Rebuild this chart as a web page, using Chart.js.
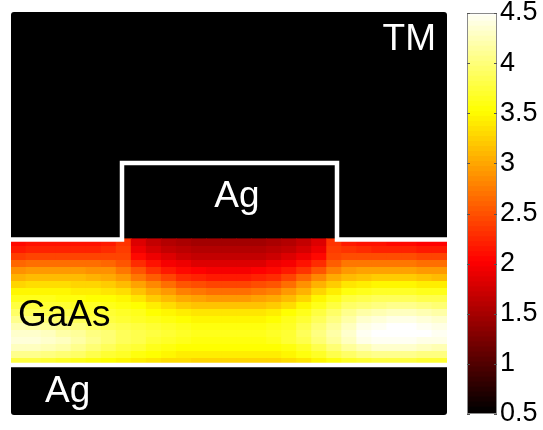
<!DOCTYPE html>
<html>
<head>
<meta charset="utf-8">
<script src="https://cdn.jsdelivr.net/npm/chart.js@4/dist/chart.umd.min.js"></script>
<style>
  html, body { margin: 0; padding: 0; background: #fff; overflow: hidden; }
  #wrap { position: relative; width: 543px; height: 430px; }
  #mapa { position: absolute; left: 11px; top: 12px; background: #000; border-radius: 3px; }
  #barra { position: absolute; left: 460px; top: -20px; }
</style>
</head>
<body>
<div id="wrap">
  <canvas id="mapa" width="436" height="403"></canvas>
  <canvas id="barra" width="83" height="470"></canvas>
</div>
<script>
// columnas del mapa (izquierda a derecha) y bordes de filas dentro del GaAs (arriba a abajo)
const columnas = Array.from({ length: 29 }, (_, i) => String(i + 1));
const bordesFilas = [176, 169, 162, 155, 148, 141, 134, 127, 120, 113, 106, 99, 92, 85, 78, 71, 64, 57, 50];

// |E|, una fila por franja
const campo = [
  [2.05, 2.1, 2.1, 2.1, 2.1, 2.1, 2.15, 2.3, 1.8, 1.65, 1.55, 1.5, 1.45, 1.45, 1.45, 1.45, 1.45, 1.5, 1.55, 1.65, 1.8, 2.3, 2.15, 2.1, 2.1, 2.05, 2.05, 2.0, 2.0],
  [2.15, 2.2, 2.2, 2.2, 2.2, 2.2, 2.25, 2.35, 1.9, 1.75, 1.65, 1.6, 1.55, 1.55, 1.55, 1.55, 1.55, 1.6, 1.65, 1.75, 1.9, 2.35, 2.3, 2.25, 2.2, 2.2, 2.2, 2.15, 2.15],
  [2.35, 2.4, 2.4, 2.4, 2.4, 2.4, 2.4, 2.4, 2.05, 1.9, 1.8, 1.7, 1.65, 1.65, 1.65, 1.65, 1.65, 1.7, 1.8, 1.9, 2.05, 2.4, 2.45, 2.45, 2.45, 2.45, 2.45, 2.4, 2.4],
  [2.6, 2.65, 2.65, 2.65, 2.65, 2.65, 2.6, 2.5, 2.25, 2.1, 1.95, 1.9, 1.8, 1.8, 1.8, 1.8, 1.8, 1.9, 1.95, 2.1, 2.25, 2.55, 2.7, 2.7, 2.7, 2.7, 2.7, 2.65, 2.65],
  [2.85, 2.9, 2.9, 2.9, 2.9, 2.85, 2.85, 2.7, 2.5, 2.3, 2.15, 2.05, 2.0, 1.95, 1.95, 1.95, 2.0, 2.05, 2.15, 2.3, 2.5, 2.75, 2.9, 2.95, 2.95, 2.95, 2.95, 2.9, 2.9],
  [3.05, 3.1, 3.1, 3.1, 3.1, 3.05, 3.0, 2.9, 2.7, 2.55, 2.4, 2.25, 2.2, 2.15, 2.15, 2.15, 2.2, 2.25, 2.4, 2.6, 2.8, 3.0, 3.1, 3.15, 3.2, 3.2, 3.2, 3.15, 3.1],
  [3.25, 3.3, 3.3, 3.3, 3.25, 3.25, 3.2, 3.1, 2.95, 2.8, 2.65, 2.5, 2.45, 2.4, 2.4, 2.4, 2.45, 2.5, 2.65, 2.85, 3.05, 3.2, 3.35, 3.4, 3.45, 3.45, 3.45, 3.4, 3.4],
  [3.45, 3.45, 3.45, 3.45, 3.4, 3.4, 3.35, 3.3, 3.15, 3.0, 2.9, 2.75, 2.7, 2.65, 2.65, 2.65, 2.7, 2.75, 2.9, 3.05, 3.25, 3.4, 3.55, 3.6, 3.65, 3.65, 3.65, 3.6, 3.6],
  [3.6, 3.6, 3.6, 3.55, 3.55, 3.5, 3.5, 3.45, 3.35, 3.2, 3.1, 3.0, 2.95, 2.9, 2.9, 2.9, 2.95, 3.0, 3.1, 3.25, 3.45, 3.6, 3.75, 3.8, 3.85, 3.85, 3.85, 3.8, 3.8],
  [3.75, 3.75, 3.7, 3.7, 3.65, 3.65, 3.6, 3.55, 3.5, 3.4, 3.3, 3.2, 3.15, 3.15, 3.15, 3.15, 3.15, 3.2, 3.3, 3.45, 3.6, 3.75, 3.9, 3.95, 4.0, 4.05, 4.05, 4.0, 3.95],
  [3.9, 3.85, 3.8, 3.8, 3.75, 3.7, 3.7, 3.65, 3.6, 3.5, 3.45, 3.4, 3.35, 3.35, 3.35, 3.35, 3.35, 3.4, 3.5, 3.6, 3.75, 3.9, 4.05, 4.15, 4.2, 4.25, 4.25, 4.2, 4.15],
  [4.05, 4.0, 3.95, 3.9, 3.85, 3.8, 3.75, 3.7, 3.65, 3.6, 3.55, 3.5, 3.45, 3.45, 3.45, 3.45, 3.45, 3.5, 3.6, 3.7, 3.85, 4.0, 4.15, 4.3, 4.35, 4.4, 4.4, 4.35, 4.3],
  [4.2, 4.15, 4.1, 4.05, 4.0, 3.9, 3.85, 3.8, 3.75, 3.7, 3.65, 3.6, 3.55, 3.55, 3.55, 3.55, 3.55, 3.6, 3.65, 3.8, 3.95, 4.1, 4.25, 4.4, 4.45, 4.5, 4.5, 4.45, 4.4],
  [4.3, 4.3, 4.25, 4.15, 4.1, 4.0, 3.95, 3.85, 3.8, 3.75, 3.7, 3.65, 3.6, 3.6, 3.6, 3.6, 3.6, 3.65, 3.7, 3.85, 4.0, 4.15, 4.3, 4.45, 4.5, 4.5, 4.5, 4.5, 4.45],
  [4.35, 4.35, 4.3, 4.25, 4.15, 4.05, 3.95, 3.85, 3.8, 3.7, 3.65, 3.6, 3.55, 3.55, 3.55, 3.55, 3.55, 3.6, 3.7, 3.8, 3.95, 4.1, 4.25, 4.4, 4.45, 4.45, 4.45, 4.4, 4.4],
  [4.25, 4.25, 4.2, 4.15, 4.05, 3.95, 3.85, 3.75, 3.7, 3.6, 3.55, 3.5, 3.5, 3.5, 3.5, 3.5, 3.5, 3.5, 3.55, 3.65, 3.8, 3.95, 4.1, 4.2, 4.3, 4.3, 4.3, 4.25, 4.2],
  [4.05, 4.05, 4.0, 3.95, 3.9, 3.8, 3.7, 3.65, 3.55, 3.5, 3.45, 3.4, 3.4, 3.4, 3.4, 3.4, 3.4, 3.4, 3.45, 3.55, 3.65, 3.8, 3.9, 4.0, 4.05, 4.05, 4.05, 4.0, 4.0],
  [3.75, 3.75, 3.7, 3.65, 3.6, 3.55, 3.5, 3.45, 3.4, 3.35, 3.3, 3.3, 3.25, 3.25, 3.25, 3.25, 3.25, 3.25, 3.3, 3.35, 3.45, 3.55, 3.65, 3.7, 3.75, 3.75, 3.75, 3.7, 3.7]
];

// contorno del Ag (ridge) y borde inferior del GaAs
const ridgeX = [-5, 111, 111, 326, 326, 441];
const ridgeY = [175.5, 175.5, 252, 252, 175.5, 175.5];
const baseX = [-5, 441];
const baseY = [50, 50];

const escalaMin = 0.5;
const escalaMax = 4.5;
const ticksBarra = [0.5, 1, 1.5, 2, 2.5, 3, 3.5, 4, 4.5];

const textos = [
  { texto: 'TM', x: 425, y: 365, color: '#fff', align: 'right' },
  { texto: 'Ag', x: 226, y: 208, color: '#fff', align: 'center' },
  { texto: 'GaAs', x: 7, y: 89, color: '#000', align: 'left' },
  { texto: 'Ag', x: 34, y: 13, color: '#fff', align: 'left' }
];

// mapa de color tipo "hot" de matlab
function hot(v) {
  let t = (v - escalaMin) / (escalaMax - escalaMin);
  t = Math.min(1, Math.max(0, t));
  const r = Math.min(1, t / 0.375);
  const g = Math.min(1, Math.max(0, (t - 0.375) / 0.375));
  const b = Math.min(1, Math.max(0, (t - 0.75) / 0.25));
  return `rgb(${Math.round(r * 255)}, ${Math.round(g * 255)}, ${Math.round(b * 255)})`;
}

const fuente = '"Liberation Sans", Arial, Helvetica, sans-serif';

const datasetsMapa = campo.map((fila, i) => ({
  type: 'bar',
  data: fila.map(() => [bordesFilas[i + 1], bordesFilas[i] + 0.6]),
  backgroundColor: fila.map(hot),
  borderWidth: 0,
  grouped: false,
  barPercentage: 1.06,
  categoryPercentage: 1,
  xAxisID: 'x',
  yAxisID: 'y',
  order: 2
}));

function linea(xs, ys) {
  return {
    type: 'line',
    data: xs.map((x, i) => ({ x: x, y: ys[i] })),
    borderColor: '#fff',
    borderWidth: 4.5,
    borderJoinStyle: 'miter',
    pointRadius: 0,
    tension: 0,
    fill: false,
    xAxisID: 'xl',
    yAxisID: 'y',
    order: 0
  };
}

const etiquetas = {
  id: 'etiquetas',
  afterDatasetsDraw(chart) {
    const ctx = chart.ctx;
    ctx.save();
    ctx.font = '37px ' + fuente;
    ctx.textBaseline = 'alphabetic';
    textos.forEach(t => {
      ctx.fillStyle = t.color;
      ctx.textAlign = t.align;
      ctx.fillText(t.texto, chart.scales.xl.getPixelForValue(t.x), chart.scales.y.getPixelForValue(t.y));
    });
    ctx.restore();
  }
};

new Chart(document.getElementById('mapa'), {
  data: {
    labels: columnas,
    datasets: [...datasetsMapa, linea(ridgeX, ridgeY), linea(baseX, baseY)]
  },
  options: {
    responsive: false,
    animation: false,
    devicePixelRatio: 1,
    layout: { padding: 0 },
    plugins: { legend: { display: false }, tooltip: { enabled: false } },
    scales: {
      x: { type: 'category', display: false },
      xl: { type: 'linear', min: 0, max: 436, display: false },
      y: { type: 'linear', min: 0, max: 403, display: false }
    }
  },
  plugins: [etiquetas]
});

// barra de colores
const pasos = 80;
const datasetsBarra = [];
for (let i = 0; i < pasos; i++) {
  const lo = escalaMin + (escalaMax - escalaMin) * i / pasos;
  const hi = escalaMin + (escalaMax - escalaMin) * (i + 1) / pasos;
  datasetsBarra.push({
    data: [[lo, Math.min(escalaMax, hi + 0.02)]],
    backgroundColor: hot((lo + hi) / 2),
    borderWidth: 0,
    grouped: false,
    barPercentage: 1,
    categoryPercentage: 1
  });
}

const marcoBarra = {
  id: 'marcoBarra',
  afterDatasetsDraw(chart) {
    const ctx = chart.ctx;
    const a = chart.chartArea;
    const y = chart.scales.y;
    ctx.save();
    ctx.strokeStyle = '#8a8a8a';
    ctx.lineWidth = 1;
    ctx.strokeRect(a.left + 0.5, a.top + 0.5, a.right - a.left - 1, a.bottom - a.top - 1);
    ctx.strokeStyle = '#555';
    ticksBarra.forEach(v => {
      const py = Math.round(y.getPixelForValue(v)) + 0.5;
      ctx.beginPath();
      ctx.moveTo(a.left, py);
      ctx.lineTo(a.left + 3, py);
      ctx.moveTo(a.right - 3, py);
      ctx.lineTo(a.right, py);
      ctx.stroke();
    });
    ctx.restore();
  }
};

new Chart(document.getElementById('barra'), {
  type: 'bar',
  data: { labels: [''], datasets: datasetsBarra },
  options: {
    responsive: false,
    animation: false,
    devicePixelRatio: 1,
    layout: { padding: { left: 7, top: 33, bottom: 36, right: 0 } },
    plugins: { legend: { display: false }, tooltip: { enabled: false } },
    scales: {
      x: { display: false },
      y: {
        position: 'right',
        min: escalaMin,
        max: escalaMax,
        afterFit(scale) { scale.width = 46; },
        afterBuildTicks(scale) { scale.ticks = ticksBarra.map(v => ({ value: v })); },
        grid: { display: false, drawTicks: false },
        border: { display: false },
        ticks: {
          padding: 3,
          color: '#000',
          autoSkip: false,
          font: { family: fuente, size: 27 },
          callback: v => String(v)
        }
      }
    }
  },
  plugins: [marcoBarra]
});
</script>
</body>
</html>
